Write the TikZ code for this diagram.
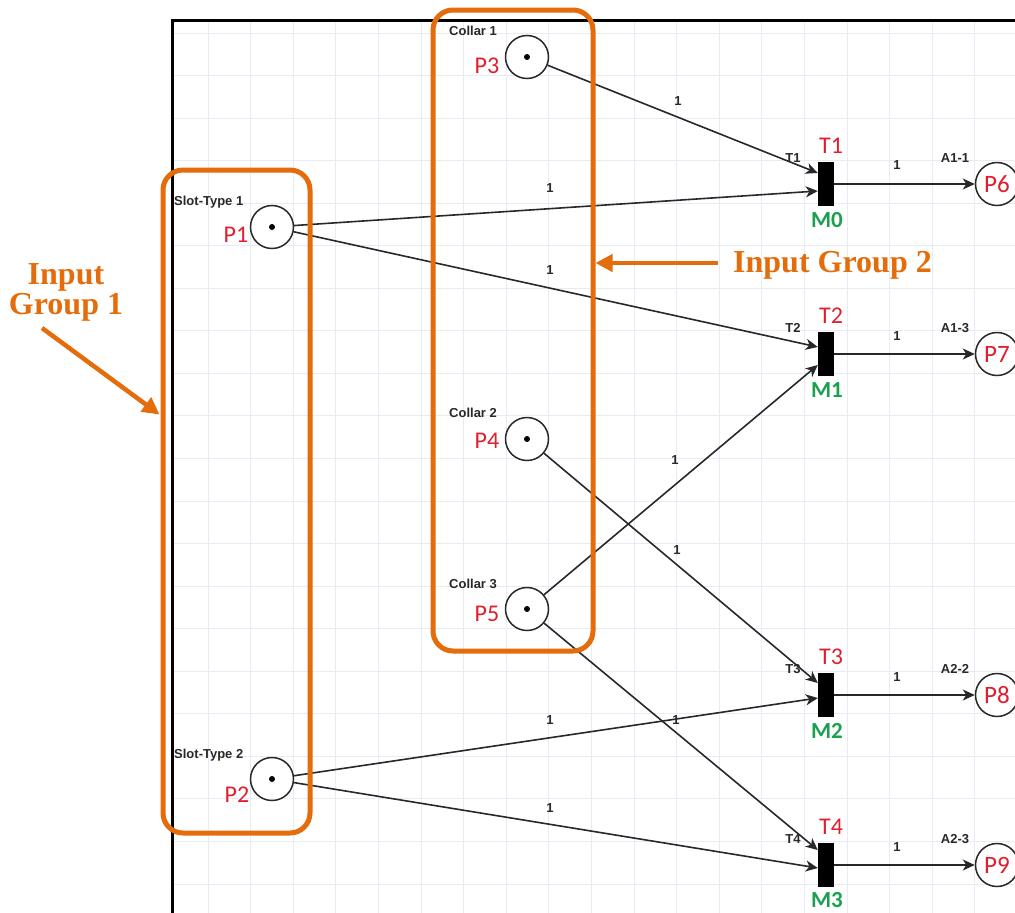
\documentclass[tikz,border=0pt]{standalone}
\usepackage{fontspec}
\setmainfont{Carlito}
\newfontfamily\arialf{Liberation Sans}
\newfontfamily\timesf{Liberation Serif}
\usetikzlibrary{arrows.meta,calc}
\definecolor{org}{RGB}{228,108,10}
\definecolor{pred}{RGB}{225,30,45}
\definecolor{mgreen}{RGB}{25,160,80}
\definecolor{gridc}{RGB}{232,234,246}
\definecolor{arcc}{RGB}{40,40,40}
\definecolor{txtc}{RGB}{40,40,40}
\begin{document}
\begin{tikzpicture}[x=1pt,y=-1pt,
  place/.style={circle,draw=arcc,line width=1.5pt,minimum size=43pt,inner sep=0pt,fill=white},
  outplace/.style={place,text=pred,font=\fontsize{25}{25}\selectfont},
  trans/.style={rectangle,fill=black,minimum width=16pt,minimum height=44pt,inner sep=0pt},
  plab/.style={text=pred,font=\fontsize{24}{24}\selectfont,inner sep=0pt},
  tlab/.style={text=pred,font=\fontsize{24}{24}\selectfont,inner sep=0pt},
  mlab/.style={text=mgreen,font=\bfseries\fontsize{23}{23}\selectfont,inner sep=0pt},
  slab/.style={text=txtc,font=\arialf\bfseries\fontsize{13}{13}\selectfont,inner sep=0pt},
  wlab/.style={slab},
  arc/.style={draw=arcc,line width=1.6pt,-{Stealth[length=12pt,width=11pt,inset=3.5pt]}},
  grp/.style={draw=org,line width=5pt,rounded corners=20pt,rectangle,inner sep=0pt},
  big/.style={text=org,font=\timesf\bfseries\fontsize{32}{30}\selectfont,inner sep=0pt},
  oarrow/.style={draw=org,line width=4.5pt,-{Triangle[length=17pt,width=17pt]}}
]
\useasboundingbox (0,0) rectangle (1015,913);
\clip (0,0) rectangle (1015,913);
% grid
\foreach \k in {0,...,18} \draw[gridc,line width=1pt] ({208+42.6*\k},20) -- ({208+42.6*\k},913);
\foreach \k in {0,...,20} \draw[gridc,line width=1pt] (172,{33+42.55*\k}) -- (1015,{33+42.55*\k});
% frame
\draw[black,line width=3pt] (172,920) -- (172,20) -- (1020,20);

% places
\node[place] (P3) at (527,57) {};
\node[place] (P1) at (272,227) {};
\node[place] (P4) at (527,439) {};
\node[place] (P5) at (527,609) {};
\node[place] (P2) at (272,779) {};
\foreach \p in {P1,P2,P3,P4,P5} \fill[black] (\p.center) circle (3);

\node[plab] (P3l) at (487,66) {P3};
\node[plab] (P1l) at (236,235) {P1};
\node[plab] (P4l) at (487,441) {P4};
\node[plab] (P5l) at (487,614) {P5};
\node[plab] (P2l) at (237,795) {P2};

\node[slab,anchor=west] (C1) at (449,31) {Collar 1};
\node[slab,anchor=west] (C2) at (449,413) {Collar 2};
\node[slab,anchor=west] (C3) at (449,584) {Collar 3};
\node[slab,anchor=west] (S1) at (174,202) {Slot-Type 1};
\node[slab,anchor=west] (S2) at (174,755) {Slot-Type 2};

% transitions
\node[trans] (T1) at (826,184) {};
\node[trans] (T2) at (826,354) {};
\node[trans] (T3) at (826,695) {};
\node[trans] (T4) at (826,865) {};

\node[tlab] (T1l) at (831,146) {T1};
\node[tlab] (T2l) at (831,316) {T2};
\node[tlab] (T3l) at (831,657) {T3};
\node[tlab] (T4l) at (831,827) {T4};
\node[mlab] (M0) at (827,220) {M0};
\node[mlab] (M1) at (827,390) {M1};
\node[mlab] (M2) at (827,731) {M2};
\node[mlab] (M3) at (827,900) {M3};

\node[slab] (t1s) at (793,158) {T1};
\node[slab] (t2s) at (793,328) {T2};
\node[slab] (t3s) at (793,669) {T3};
\node[slab] (t4s) at (793,839) {T4};

% output places
\node[outplace] (P6) at (997,184) {P6};
\node[outplace] (P7) at (997,354) {P7};
\node[outplace] (P8) at (997,695) {P8};
\node[outplace] (P9) at (997,865) {P9};

\node[slab] (A11) at (955,158) {A1-1};
\node[slab] (A13) at (955,328) {A1-3};
\node[slab] (A22) at (955,669) {A2-2};
\node[slab] (A23) at (955,839) {A2-3};

% input arcs
\draw[arc] (P3) -- ($(T1.west)+(0,-11)$);
\draw[arc] (P1) -- ($(T1.west)+(0,7)$);
\draw[arc] (P1) -- ($(T2.west)+(0,-7)$);
\draw[arc] (P5) -- ($(T2.west)+(0,11)$);
\draw[arc] (P4) -- ($(T3.west)+(0,-12)$);
\draw[arc] (P2) -- ($(T3.west)+(0,3)$);
\draw[arc] (P5) -- ($(T4.west)+(0,-15)$);
\draw[arc] (P2) -- ($(T4.west)+(0,3)$);
% output arcs
\draw[arc] (T1.east) -- (P6.west);
\draw[arc] (T2.east) -- (P7.west);
\draw[arc] (T3.east) -- (P8.west);
\draw[arc] (T4.east) -- (P9.west);

% weights
\node[wlab] (w1) at (678,101) {1};
\node[wlab] (w2) at (550,188) {1};
\node[wlab] (w3) at (550,270) {1};
\node[wlab] (w4) at (675,460) {1};
\node[wlab] (w5) at (677,550) {1};
\node[wlab] (w6) at (550,720) {1};
\node[wlab] (w7) at (676,720) {1};
\node[wlab] (w8) at (550,808) {1};
\node[wlab] (o1) at (897,165) {1};
\node[wlab] (o2) at (897,336) {1};
\node[wlab] (o3) at (897,677) {1};
\node[wlab] (o4) at (897,847) {1};

% groups
\node[grp,minimum width=147pt,minimum height=663pt] (G1) at (236.5,501.5) {};
\node[grp,minimum width=160pt,minimum height=641pt] (G2) at (513,330.5) {};

\node[big,anchor=base west] (IG2) at (733,272) {Input Group 2};
\coordinate (a2s) at (718,263);
\draw[oarrow] (a2s) -- (G2.east |- a2s);

\node[big,align=center] (IG1) at (66,292) {Input\\Group 1};
\coordinate (a1s) at (42,328);
\draw[oarrow] (a1s) -- ($(G1.west)+(-1,-87)$);
\end{tikzpicture}
\end{document}
